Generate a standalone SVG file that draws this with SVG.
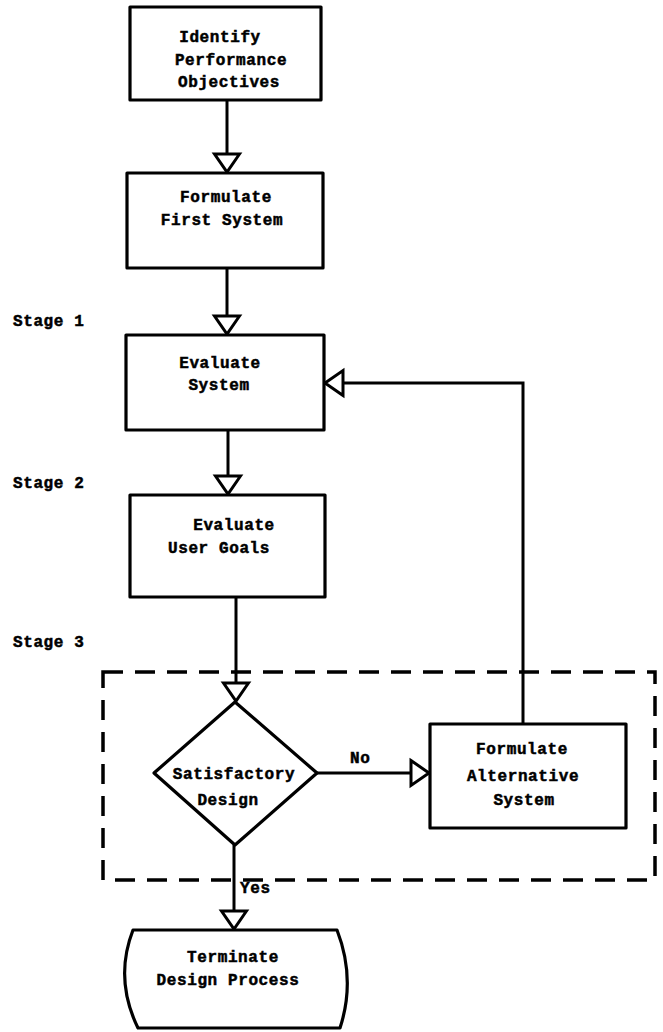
<svg xmlns="http://www.w3.org/2000/svg" width="663" height="1032" viewBox="0 0 663 1032">
  <style>
    .box { fill: #fff; stroke: #000; stroke-width: 3.2; stroke-linejoin: round; }
    .edge { fill: none; stroke: #000; stroke-width: 3; }
    .frame { fill: none; stroke: #000; stroke-width: 3.5; stroke-dasharray: 20 12; }
    text { font-family: "Liberation Mono", "DejaVu Sans Mono", monospace; font-weight: bold; font-size: 16px; letter-spacing: 0.6px; fill: #000; stroke: #000; stroke-width: 0.5px; }
    .c { text-anchor: middle; }
  </style>
  <defs>
    <marker id="open-tri" markerUnits="userSpaceOnUse" viewBox="-3 -3 25 31" refX="18" refY="12.5" markerWidth="25" markerHeight="31" orient="auto" overflow="visible">
      <path d="M0,0 L18,12.5 L0,25 Z" fill="#fff" stroke="#000" stroke-width="3" stroke-linejoin="miter"/>
    </marker>
  </defs>

  <rect width="663" height="1032" fill="#fff"/>

  <!-- stage labels -->
  <g id="stage-labels">
    <text x="13" y="326">Stage 1</text>
    <text x="13" y="488">Stage 2</text>
    <text x="13" y="647">Stage 3</text>
  </g>

  <!-- dashed region around the decision step -->
  <g id="stage3-frame">
    <rect class="frame" x="103" y="672" width="552" height="208"/>
  </g>

  <!-- connectors -->
  <g id="connectors">
    <path class="edge" d="M227,100 V172" marker-end="url(#open-tri)"/>
    <path class="edge" d="M227,268 V334" marker-end="url(#open-tri)"/>
    <path class="edge" d="M228,430 V494" marker-end="url(#open-tri)"/>
    <path class="edge" d="M236,597 V701" marker-end="url(#open-tri)"/>
    <path class="edge" d="M317,773 H429" marker-end="url(#open-tri)"/>
    <path class="edge" d="M523,724 V383 H325" marker-end="url(#open-tri)"/>
    <path class="edge" d="M234,845 V929" marker-end="url(#open-tri)"/>
    <text x="350" y="763">No</text>
    <text x="240" y="893">Yes</text>
  </g>

  <g id="identify-objectives">
    <rect class="box" x="130" y="7" width="191" height="93"/>
    <text class="c" x="220" y="42">Identify</text>
    <text class="c" x="231" y="65">Performance</text>
    <text class="c" x="229" y="87">Objectives</text>
  </g>

  <g id="formulate-first">
    <rect class="box" x="127" y="173" width="196" height="95"/>
    <text class="c" x="226" y="202">Formulate</text>
    <text class="c" x="222" y="225">First System</text>
  </g>

  <g id="evaluate-system">
    <rect class="box" x="126" y="335" width="198" height="95"/>
    <text class="c" x="220" y="368">Evaluate</text>
    <text class="c" x="219" y="390">System</text>
  </g>

  <g id="evaluate-goals">
    <rect class="box" x="130" y="495" width="195" height="102"/>
    <text class="c" x="234" y="530">Evaluate</text>
    <text class="c" x="219" y="553">User Goals</text>
  </g>

  <g id="satisfactory-design">
    <polygon class="box" points="235,702 317,773 235,845 154,773"/>
    <text class="c" x="234" y="779">Satisfactory</text>
    <text class="c" x="228" y="805">Design</text>
  </g>

  <g id="formulate-alternative">
    <rect class="box" x="430" y="724" width="196" height="104"/>
    <text class="c" x="522" y="754">Formulate</text>
    <text class="c" x="523" y="781">Alternative</text>
    <text class="c" x="524" y="805">System</text>
  </g>

  <g id="terminate">
    <path class="box" d="M133,930 H337 Q356,979 340,1028 H138 Q114,979 133,930 Z"/>
    <text class="c" x="233" y="962">Terminate</text>
    <text class="c" x="228" y="985">Design Process</text>
  </g>
</svg>
